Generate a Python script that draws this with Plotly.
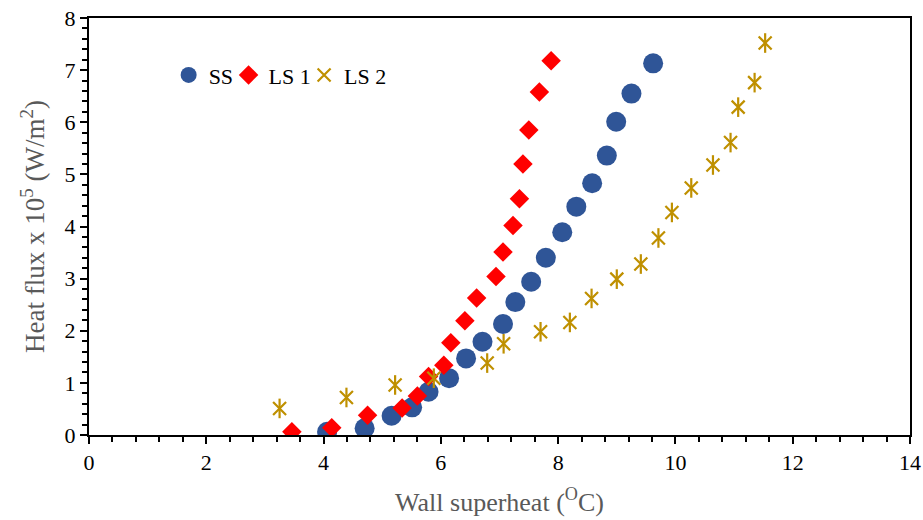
import plotly.graph_objects as go

# Wall superheat (°C) and heat flux (x1e5 W/m2)
ss_x = [4.06, 4.70, 5.16, 5.51, 5.79, 6.14, 6.43, 6.71, 7.06, 7.27, 7.54, 7.79, 8.07, 8.31, 8.58, 8.83, 8.99, 9.25, 9.62]
ss_y = [0.06, 0.13, 0.37, 0.53, 0.83, 1.09, 1.47, 1.79, 2.13, 2.55, 2.94, 3.40, 3.89, 4.38, 4.83, 5.36, 6.01, 6.55, 7.13]

ls1_x = [3.46, 4.14, 4.75, 5.34, 5.60, 5.79, 6.05, 6.17, 6.41, 6.61, 6.94, 7.06, 7.23, 7.34, 7.40, 7.50, 7.68, 7.88]
ls1_y = [0.06, 0.14, 0.38, 0.52, 0.75, 1.12, 1.34, 1.77, 2.19, 2.63, 3.04, 3.51, 4.02, 4.53, 5.20, 5.85, 6.58, 7.18]

ls2_x = [3.25, 4.39, 5.22, 5.88, 6.79, 7.07, 7.70, 8.20, 8.57, 9.00, 9.41, 9.71, 9.94, 10.27, 10.64, 10.94, 11.07, 11.35, 11.53]
ls2_y = [0.51, 0.72, 0.96, 1.09, 1.38, 1.75, 1.98, 2.16, 2.62, 2.99, 3.28, 3.78, 4.27, 4.74, 5.18, 5.61, 6.29, 6.76, 7.52]

x_ticks = [0, 2, 4, 6, 8, 10, 12, 14]
y_ticks = [0, 1, 2, 3, 4, 5, 6, 7, 8]

FONT = "Liberation Serif, Times New Roman, serif"
GOLD = "#BF9000"

fig = go.Figure()
fig.add_trace(go.Scatter(x=ss_x, y=ss_y, mode="markers", name="SS", legend="legend",
                         marker=dict(symbol="circle", size=20, color="#2F5597")))
fig.add_trace(go.Scatter(x=ls1_x, y=ls1_y, mode="markers", name="LS 1", legend="legend2",
                         marker=dict(symbol="diamond", size=15, color="#FF0000")))
fig.add_trace(go.Scatter(x=ls2_x, y=ls2_y, mode="markers", name="LS 2", legend="legend3",
                         marker=dict(symbol="x-thin-open", size=13, color=GOLD,
                                     line=dict(color=GOLD, width=2.2))))
fig.add_trace(go.Scatter(x=ls2_x, y=ls2_y, mode="markers", name="LS 2", showlegend=False,
                         marker=dict(symbol="line-ns-open", size=14, color=GOLD,
                                     line=dict(color=GOLD, width=2.2))))

axis_common = dict(showgrid=False, zeroline=False, showline=True, linecolor="black",
                   linewidth=2, mirror=True, ticks="outside", tickcolor="black",
                   tickwidth=1.5, ticklen=7, automargin=False,
                   tickfont=dict(family=FONT, size=22, color="black"))

fig.update_xaxes(range=[0, 14], tickvals=x_ticks, ticktext=[str(v) for v in x_ticks],
                 minor=dict(dtick=0.4, ticks="outside", ticklen=5, tickcolor="black", tickwidth=1.5),
                 title=dict(text="Wall superheat (<sup>O</sup>C)", standoff=18,
                            font=dict(family=FONT, size=26, color="#595959")),
                 **axis_common)
fig.update_yaxes(range=[0, 8], tickvals=y_ticks, ticktext=[str(v) for v in y_ticks],
                 minor=dict(dtick=0.2, ticks="outside", ticklen=5, tickcolor="black", tickwidth=1.5),
                 title=dict(text="Heat flux x 10<sup>5</sup> (W/m<sup>2</sup>)", standoff=12,
                            font=dict(family=FONT, size=27, color="#595959")),
                 **axis_common)

leg_common = dict(orientation="h", yanchor="middle", xanchor="left", y=0.863,
                  bgcolor="rgba(0,0,0,0)", itemwidth=30,
                  font=dict(family=FONT, size=22, color="black"))

fig.update_layout(
    width=923, height=520,
    margin=dict(l=89, r=13, t=18, b=85),
    paper_bgcolor="white", plot_bgcolor="white",
    font=dict(family=FONT, size=20, color="black"),
    legend=dict(x=0.0970, **leg_common),
    legend2=dict(x=0.1700, **leg_common),
    legend3=dict(x=0.2620, **leg_common),
)

fig.write_html("out.html", config={"displayModeBar": False},
               post_script="document.body.style.margin='0px';document.body.style.overflow='hidden';")
